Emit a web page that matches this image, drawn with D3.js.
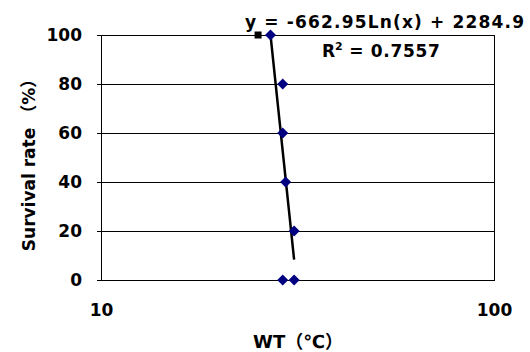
<!DOCTYPE html>
<html><head><meta charset="utf-8">
<script src="https://cdn.jsdelivr.net/npm/d3@7"></script>
<style>body{margin:0;background:#fff}svg{display:block}</style>
</head><body>
<svg id="c" width="530" height="352"></svg>
<script>
const wtValues = [27, 29, 29, 29.5, 31, 29, 31];
const survivalValues = [100, 80, 60, 40, 20, 0, 0];
const extraX = [25.1];
const extraY = [100];
const yTicks = [0, 20, 40, 60, 80, 100];
const xTicks = [10, 100];
const trendA = -662.95, trendB = 2284.9;
const eqLabel = "y = -662.95Ln(x) + 2284.9";
const r2Label = "0.7557";

const svg = d3.select("#c");
const font = "'DejaVu Sans','Noto Sans CJK JP',sans-serif";
const L = 101, R = 494, T = 35, B = 280;
const x = d3.scaleLog().domain([10, 100]).range([L, R]);
const y = d3.scaleLinear().domain([0, 100]).range([B, T]);

// gridlines
svg.append("g").selectAll("line").data(yTicks).join("line")
  .attr("x1", L).attr("x2", R).attr("y1", d => y(d)).attr("y2", d => y(d))
  .attr("stroke", "#000").attr("stroke-width", 1).attr("shape-rendering", "crispEdges");
// right border
svg.append("line").attr("x1", R).attr("x2", R).attr("y1", T).attr("y2", B)
  .attr("stroke", "#000").attr("shape-rendering", "crispEdges");

// axes
const yAxis = d3.axisLeft(y).tickValues(yTicks).tickSize(4).tickPadding(15);
const gy = svg.append("g").attr("transform", `translate(${L},0)`).call(yAxis);
gy.select(".domain").attr("stroke", "#000").attr("shape-rendering", "crispEdges");
gy.selectAll("text").attr("font-family", font).attr("font-weight", "bold").attr("font-size", 17).attr("fill", "#000");

const xAxis = d3.axisBottom(x).tickValues(xTicks).tickFormat(d3.format("d")).tickSize(0).tickPadding(24);
const gx = svg.append("g").attr("transform", `translate(0,${B})`).call(xAxis);
gx.select(".domain").attr("stroke", "#000").attr("shape-rendering", "crispEdges");
gx.selectAll("text").attr("font-family", font).attr("font-weight", "bold").attr("font-size", 17).attr("fill", "#000");

// trendline
const xs = d3.range(0, 41).map(i => d3.min(wtValues) + (d3.max(wtValues) - d3.min(wtValues)) * i / 40);
svg.append("path")
  .datum(xs)
  .attr("d", d3.line().x(d => x(d)).y(d => y(trendA * Math.log(d) + trendB)))
  .attr("fill", "none").attr("stroke", "#000").attr("stroke-width", 2.5);

// points
const diamond = "M0,-5.5L5.5,0L0,5.5L-5.5,0Z";
svg.append("g").selectAll("path").data(wtValues.map((v, i) => [v, survivalValues[i]])).join("path")
  .attr("d", diamond)
  .attr("transform", d => `translate(${x(d[0])},${y(d[1])})`)
  .attr("fill", "#000080");

svg.append("g").selectAll("rect").data(extraX.map((v, i) => [v, extraY[i]])).join("rect")
  .attr("x", d => x(d[0]) - 3.5).attr("y", d => y(d[1]) - 3.5)
  .attr("width", 7).attr("height", 7).attr("fill", "#000");

// equation labels
svg.append("text").attr("x", 245).attr("y", 28)
  .attr("font-family", font).attr("font-weight", "bold").attr("font-size", 17)
  .attr("textLength", 279).attr("lengthAdjust", "spacing")
  .text(eqLabel);
const r2 = svg.append("text").attr("x", 322).attr("y", 57)
  .attr("font-family", font).attr("font-weight", "bold").attr("font-size", 17);
r2.append("tspan").text("R");
r2.append("tspan").attr("dy", -7).attr("font-size", 11).text("2");
r2.append("tspan").attr("dy", 7).attr("textLength", 97).attr("lengthAdjust", "spacing").text(" = " + r2Label);

// axis titles
svg.append("text").attr("transform", "translate(35,161) rotate(-90)").attr("text-anchor", "middle")
  .attr("font-family", font).attr("font-weight", "bold").attr("font-size", 17)
  .text("Survival rate （%）");
svg.append("text").attr("x", 298).attr("y", 348).attr("text-anchor", "middle")
  .attr("font-family", font).attr("font-weight", "bold").attr("font-size", 18)
  .text("WT（℃）");
</script>
</body></html>
